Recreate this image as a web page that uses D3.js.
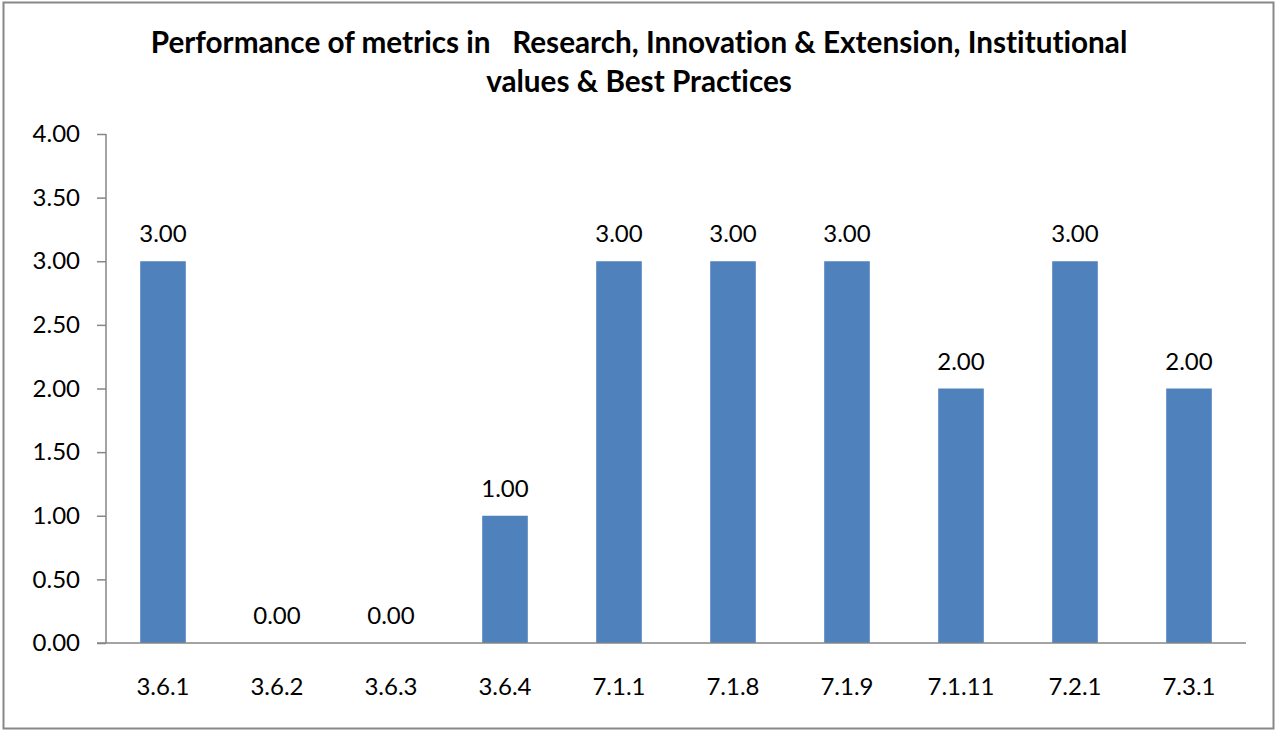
<!DOCTYPE html>
<html>
<head>
<meta charset="utf-8">
<script src="https://cdn.jsdelivr.net/npm/d3@7"></script>
<style>
  html, body { margin: 0; padding: 0; background: #fff; }
  svg { display: block; }
  text { font-variant-ligatures: none; }
</style>
</head>
<body>
<svg id="chart" width="1277" height="731"></svg>
<script>
const categories = ["3.6.1", "3.6.2", "3.6.3", "3.6.4", "7.1.1", "7.1.8", "7.1.9", "7.1.11", "7.2.1", "7.3.1"];
const values = [3, 0, 0, 1, 3, 3, 3, 2, 3, 2];
const yTicks = [0, 0.5, 1, 1.5, 2, 2.5, 3, 3.5, 4];
const titleLines = ["Performance of metrics in   Research, Innovation & Extension, Institutional", "values & Best Practices"];

const W = 1277, H = 731;
const svg = d3.select("#chart");
const font = "Lato, 'Open Sans', sans-serif";
const axisColor = "#868686";

// outer border
svg.append("rect").attr("x", 3.5).attr("y", 2.5).attr("width", 1270).attr("height", 726)
  .attr("fill", "#fff").attr("stroke", "#888").attr("stroke-width", 2);

const pLeft = 106, pRight = 1246, pTop = 134, pBottom = 643;

const x = d3.scaleBand().domain(categories).range([pLeft, pRight]).paddingInner(0.6).paddingOuter(0.3);
const y = d3.scaleLinear().domain([0, 4]).range([pBottom, pTop]);

// title
svg.append("text").attr("x", 639).attr("y", 53)
  .attr("text-anchor", "middle").attr("font-family", font).attr("font-weight", "bold")
  .attr("font-size", 29.7).attr("fill", "#000").style("white-space", "pre")
  .selectAll("tspan").data(titleLines).join("tspan")
  .attr("x", 639).attr("dy", (d, i) => i === 0 ? 0 : 39).text(d => d);

// y axis
const yAxis = svg.append("g").attr("transform", `translate(${pLeft},0)`)
  .call(d3.axisLeft(y).tickValues(yTicks).tickSize(9).tickPadding(17).tickFormat(d3.format(".2f")));
yAxis.selectAll("path, line").attr("stroke", axisColor).attr("stroke-width", 1.5);
yAxis.select(".domain").attr("d", `M0,${pTop}V${pBottom}`);
yAxis.selectAll("text").attr("font-family", font).attr("font-size", 24).attr("fill", "#000");

// bars
svg.append("g").selectAll("rect").data(values).join("rect")
  .attr("x", (d, i) => x(categories[i]))
  .attr("y", d => y(d))
  .attr("width", x.bandwidth())
  .attr("height", d => y(0) - y(d))
  .attr("fill", "#4F81BD");

// x axis
const xAxis = svg.append("g").attr("transform", `translate(0,${pBottom})`)
  .call(d3.axisBottom(x).tickSize(0).tickPadding(35));
xAxis.select(".domain").attr("d", `M${pLeft - 9},0H${pRight}`).attr("stroke", axisColor).attr("stroke-width", 1.5);
xAxis.selectAll("text").attr("font-family", font).attr("font-size", 24).attr("fill", "#000");

// data labels
svg.append("g").selectAll("text").data(values).join("text")
  .attr("x", (d, i) => x(categories[i]) + x.bandwidth() / 2)
  .attr("y", d => y(d) - 19)
  .attr("text-anchor", "middle")
  .attr("font-family", font).attr("font-size", 24).attr("fill", "#000")
  .text(d => d3.format(".2f")(d));
</script>
</body>
</html>
